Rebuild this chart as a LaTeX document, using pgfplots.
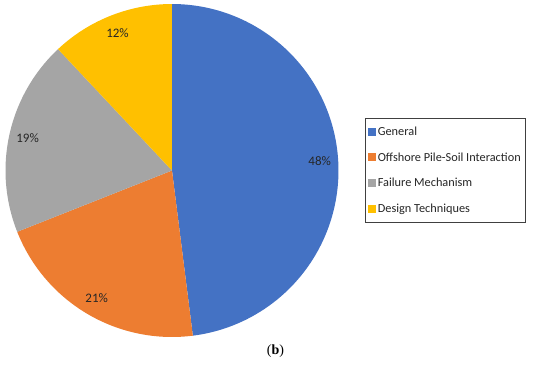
\documentclass[border=0pt]{standalone}
\usepackage{pgfplots}
\pgfplotsset{compat=1.18}
\usepgfplotslibrary{polar}
\usepackage{fontspec}
\setmainfont{Carlito}
\newfontfamily\capfont{Liberation Serif}
\definecolor{cgen}{HTML}{4472C4}
\definecolor{coff}{HTML}{ED7D31}
\definecolor{cfail}{HTML}{A5A5A5}
\definecolor{cdes}{HTML}{FFC000}
\definecolor{ctext}{HTML}{262626}
\begin{document}
\begin{tikzpicture}
\path[use as bounding box] (0pt,0pt) rectangle (550pt,-369pt);
\begin{polaraxis}[
  at={(172pt,-170.5pt)}, anchor=center,
  scale only axis, width=333pt, height=333pt,
  hide axis, xmin=0, xmax=360, ymin=0, ymax=166.5,
  clip=false,
  legend style={at={(1.0796,0.6577)}, anchor=north west, draw=black!75, line width=0.7pt,
    font=\fontsize{12.3}{14}\selectfont, text=ctext, row sep=12.6pt, inner xsep=3pt, inner ysep=7pt,
    nodes={inner sep=1.5pt}},
  legend cell align=left,
  legend image code/.code={\fill[#1] (0pt,-4pt) rectangle (8pt,4pt);},
]
% General 48%, Offshore 21%, Failure 19%, Design 12%
\addplot[fill=cgen, draw=none, domain=-82.8:90, samples=120] {166.5} -- (axis cs:0,0) -- cycle;
\addlegendentry{General}
\addplot[fill=coff, draw=none, domain=-158.4:-82.8, samples=60] {166.5} -- (axis cs:0,0) -- cycle;
\addlegendentry{Offshore Pile-Soil Interaction}
\addplot[fill=cfail, draw=none, domain=-226.8:-158.4, samples=60] {166.5} -- (axis cs:0,0) -- cycle;
\addlegendentry{Failure Mechanism}
\addplot[fill=cdes, draw=none, domain=-270:-226.8, samples=40] {166.5} -- (axis cs:0,0) -- cycle;
\addlegendentry{Design Techniques}
\node[font=\fontsize{13}{15}\selectfont, text=ctext] at (axis cs:3.6,148) {48\%};
\node[font=\fontsize{13}{15}\selectfont, text=ctext] at (axis cs:-120.6,148) {21\%};
\node[font=\fontsize{13}{15}\selectfont, text=ctext] at (axis cs:-192.6,148) {19\%};
\node[font=\fontsize{13}{15}\selectfont, text=ctext] at (axis cs:-248.4,148) {12\%};
\end{polaraxis}
\node[font=\capfont\fontsize{14}{16}\selectfont] at (275.5pt,-351pt) {(\textbf{b})};
\end{tikzpicture}
\end{document}
